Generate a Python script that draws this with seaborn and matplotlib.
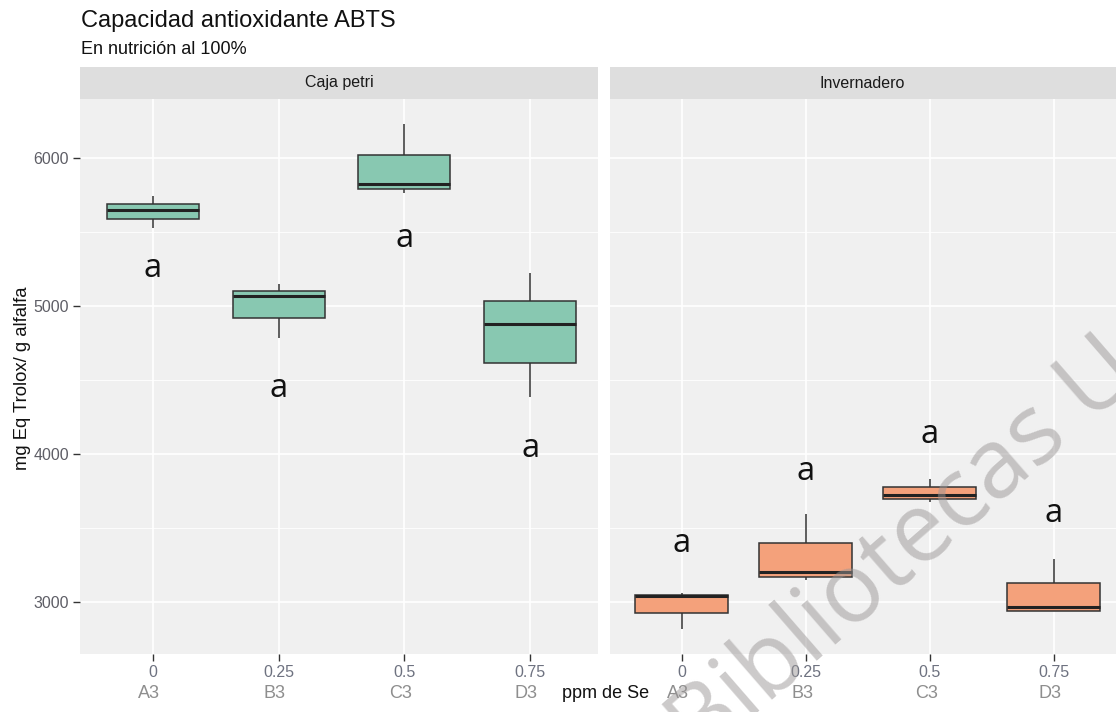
import numpy as np
import pandas as pd
import matplotlib
matplotlib.use("Agg")
import matplotlib.pyplot as plt
import matplotlib.transforms as mtransforms
from matplotlib.patches import Rectangle
import seaborn as sns

# ---------------- data ----------------
doses = ["0", "0.25", "0.5", "0.75"]
codes = ["A3", "B3", "C3", "D3"]
facets = ["Caja petri", "Invernadero"]

# five-number summaries per treatment (min, Q1, median, Q3, max)
petri_A3 = [5527, 5588, 5649, 5689, 5743]
petri_B3 = [4784, 4919, 5068, 5101, 5149]
petri_C3 = [5764, 5790, 5824, 6020, 6230]
petri_D3 = [4385, 4615, 4878, 5034, 5223]

inv_A3 = [2818, 2926, 3040, 3050, 3061]
inv_B3 = [3149, 3169, 3203, 3399, 3595]
inv_C3 = [3676, 3696, 3723, 3777, 3831]
inv_D3 = [2939, 2939, 2966, 3128, 3291]

letters_petri = ["a", "a", "a", "a"]
letters_inv = ["a", "a", "a", "a"]
letter_y_petri = [5196, 4385, 5399, 3980]
letter_y_inv = [3338, 3824, 4074, 3541]

title = "Capacidad antioxidante ABTS"
subtitle = "En nutrición al 100%"
ylabel = "mg Eq Trolox/ g alfalfa"
xlabel = "ppm de Se"
watermark = "Bibliotecas U"
yticks = [3000, 4000, 5000, 6000]
yminor = [3500, 4500, 5500]

# ---------------- build tables ----------------
def make_df(groups):
    rows = []
    for d, vals in zip(doses, groups):
        for v in vals:
            rows.append({"dosis": d, "valor": v})
    return pd.DataFrame(rows)

df_petri = make_df([petri_A3, petri_B3, petri_C3, petri_D3])
df_inv = make_df([inv_A3, inv_B3, inv_C3, inv_D3])

# ---------------- figure ----------------
W, H = 1116, 712
fig = plt.figure(figsize=(W / 100, H / 100), dpi=100)
fig.patch.set_facecolor("white")

plt.rcParams["font.family"] = ["Liberation Sans", "DejaVu Sans"]

def px_axes(x0, y0, x1, y1):
    return fig.add_axes([x0 / W, 1 - y1 / H, (x1 - x0) / W, (y1 - y0) / H])

ax1 = px_axes(80, 99, 598, 654)
ax2 = px_axes(610, 99, 1116, 654)

ylim = (2649, 6398)
panel_bg = "#F0F0F0"
strip_bg = "#DEDEDE"
edge = "#333333"

setups = [
    (ax1, df_petri, "#88C8B1", 0.73, (-0.58, 3.54), facets[0], letters_petri, letter_y_petri),
    (ax2, df_inv, "#F4A17B", 0.75, (-0.58, 3.5), facets[1], letters_inv, letter_y_inv),
]

for i, (ax, df, col, w, xl, fname, labs, ly) in enumerate(setups):
    ax.set_facecolor(panel_bg)
    sns.boxplot(data=df, x="dosis", y="valor", order=doses, ax=ax, color=col,
                saturation=1, width=w, whis=(0, 100), linecolor=edge,
                linewidth=1.1, showcaps=False,
                medianprops={"linewidth": 2.2, "color": "#222222"},
                zorder=3)
    ax.set_xlim(*xl)
    ax.set_ylim(*ylim)
    ax.set_yticks(yticks)
    ax.set_yticks(yminor, minor=True)
    ax.grid(True, which="major", color="white", linewidth=1.2, zorder=0)
    ax.grid(True, which="minor", axis="y", color="white", linewidth=0.6, zorder=0)
    ax.set_axisbelow(True)
    for s in ax.spines.values():
        s.set_visible(False)
    ax.set_xlabel("")
    ax.set_ylabel("")
    ax.set_xticks(range(len(doses)))
    ax.set_xticklabels(doses, color="#6E7280", fontsize=11.5)
    ax.tick_params(axis="x", length=5, width=1, color=edge, pad=3)
    if i == 0:
        ax.set_yticklabels([str(t) for t in yticks], color="#5E5E66", fontsize=11.5)
        ax.tick_params(axis="y", which="major", length=5, width=1, color=edge, pad=3)
        ax.tick_params(axis="y", which="minor", length=0)
    else:
        ax.tick_params(axis="y", which="both", left=False, labelleft=False)
    # second line of category labels
    trans = mtransforms.blended_transform_factory(ax.transData, ax.transAxes)
    for k, c in enumerate(codes):
        ax.text(k - 0.03, -39 / 555, c, transform=trans, ha="center", va="center",
                fontsize=13, color="#8E8E8E")
    # significance letters
    for k, (lab, yy) in enumerate(zip(labs, ly)):
        ax.text(k, yy, lab, ha="center", va="baseline", fontsize=23.5,
                color="#111111", family=["Open Sans", "DejaVu Sans"], zorder=5)
    # facet strip
    sh = 32 / 555
    ax.add_patch(Rectangle((0, 1), 1, sh, transform=ax.transAxes,
                           facecolor=strip_bg, edgecolor="none", clip_on=False))
    ax.text(0.5 if i == 0 else (862 - 610) / 506, 1 + sh / 2, fname,
            transform=ax.transAxes, ha="center", va="center",
            fontsize=11.5, color="#1A1A1A")

# titles and axis labels
fig.text(81 / W, 1 - 27 / H, title, ha="left", va="baseline", fontsize=17, color="#111111")
fig.text(81 / W, 1 - 54 / H, subtitle, ha="left", va="baseline", fontsize=13, color="#111111")
fig.text(23 / W, 1 - 378 / H, ylabel, ha="center", va="center", rotation=90,
         fontsize=13.3, color="#111111")
fig.text(562 / W, 1 - 694 / H, xlabel, ha="left", va="center", fontsize=13, color="#111111")

# watermark
fig.text(700 / W, 1 - 762 / H, watermark, ha="left", va="baseline", rotation=41,
         rotation_mode="anchor", fontsize=70, color="#9A9696", alpha=0.5,
         family=["Open Sans", "DejaVu Sans"], zorder=10)

fig.savefig("out.png", dpi=100)
